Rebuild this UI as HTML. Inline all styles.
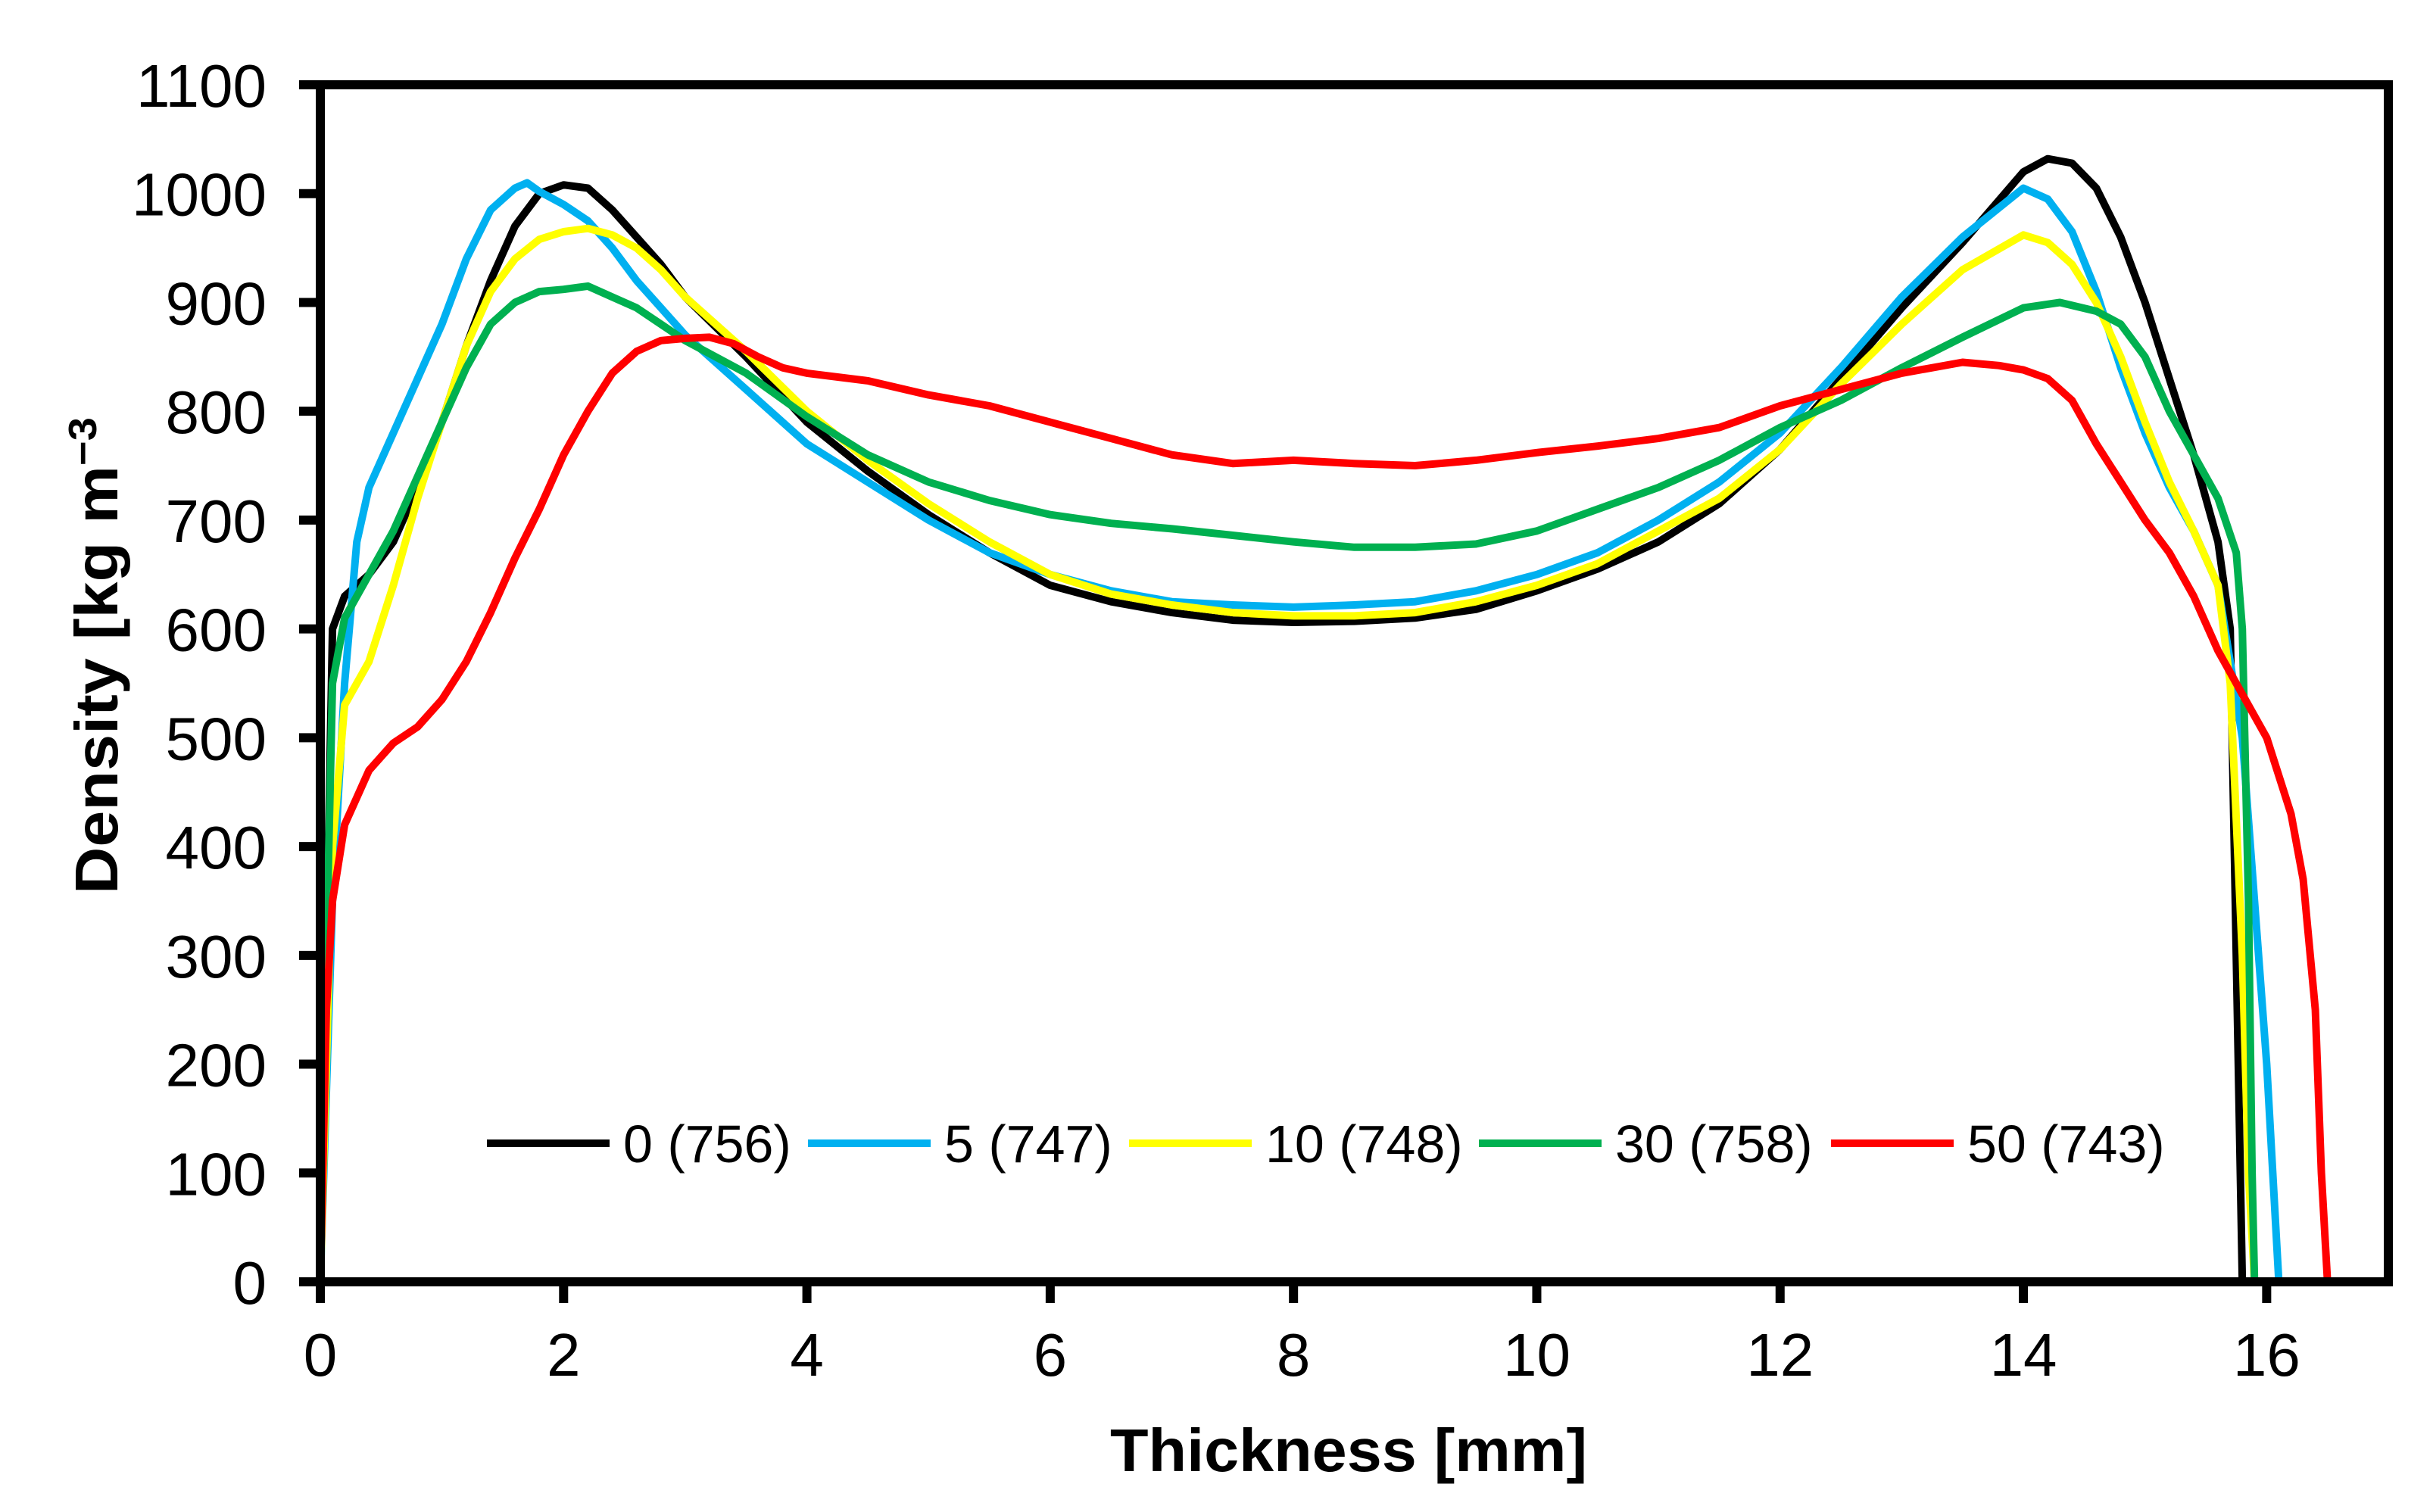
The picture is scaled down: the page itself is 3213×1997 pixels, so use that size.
<!DOCTYPE html>
<html><head><meta charset="utf-8"><style>
html,body{margin:0;padding:0;background:#fff;}
svg{display:block;font-family:"Liberation Sans",Arial,sans-serif;}
</style></head><body>
<svg id="chart" width="3213" height="1997" viewBox="0 0 3213 1997" xmlns="http://www.w3.org/2000/svg">
<rect width="3213" height="1997" fill="#fff"/>
<g id="series"></g>
<g id="axes"></g>
<g id="legend"></g>
<text x="1781" y="1943" text-anchor="middle" font-size="80" font-weight="bold" textLength="630" lengthAdjust="spacingAndGlyphs">Thickness [mm]</text>
<text transform="translate(155,866) rotate(-90)" text-anchor="middle" font-size="80" font-weight="bold" textLength="630" lengthAdjust="spacingAndGlyphs">Density [kg m<tspan dy="-28" font-size="52">−3</tspan></text>
</svg>
<script>
const xTicks = [0,2,4,6,8,10,12,14,16];
const yTicks = [0,100,200,300,400,500,600,700,800,900,1000,1100];
const seriesNames = ["0 (756)","5 (747)","10 (748)","30 (758)","50 (743)"];
const seriesColors = ["#000000","#00b0f0","#ffff00","#00b050","#ff0000"];
const x0 = [0,0.05,0.1,0.2,0.4,0.6,0.8,1.0,1.2,1.4,1.6,1.8,2.0,2.2,2.4,2.6,2.8,3.0,3.5,4,4.5,5,5.5,6,6.5,7,7.5,8,8.5,9,9.5,10,10.5,11,11.5,12,12.5,13,13.5,14,14.2,14.4,14.6,14.8,15,15.2,15.4,15.6,15.7,15.75,15.8];
const y0 = [0,300,600,630,650,680,730,790,860,920,970,1000,1008,1005,985,960,935,905,850,790,745,705,670,640,625,615,608,606,607,610,618,635,655,680,715,765,830,895,955,1020,1032,1028,1005,960,900,830,760,680,600,300,0];
const x5 = [0,0.1,0.2,0.3,0.4,0.6,0.8,1.0,1.2,1.4,1.6,1.7,1.8,2.0,2.2,2.4,2.6,2.8,3,3.5,4,4.5,5,5.5,6,6.5,7,7.5,8,8.5,9,9.5,10,10.5,11,11.5,12,12.5,13,13.5,14,14.2,14.4,14.6,14.8,15,15.2,15.4,15.6,15.8,15.9,16.0,16.05,16.1];
const y5 = [0,350,550,680,730,780,830,880,940,985,1005,1010,1002,990,975,950,920,895,870,820,770,735,700,670,650,635,625,622,620,622,625,635,650,670,700,735,780,840,905,960,1005,995,965,910,840,780,730,690,640,500,350,200,100,0];
const x10 = [0,0.1,0.2,0.4,0.6,0.8,1,1.2,1.4,1.6,1.8,2.0,2.2,2.4,2.6,2.8,3,3.5,4,4.5,5,5.5,6,6.5,7,7.5,8,8.5,9,9.5,10,10.5,11,11.5,12,12.5,13,13.5,14,14.2,14.4,14.6,14.8,15,15.2,15.4,15.6,15.7,15.8,15.85,15.9];
const y10 = [0,400,530,570,640,720,790,860,910,940,958,965,968,962,950,930,905,855,800,755,715,680,650,632,622,615,612,612,615,625,640,660,690,720,765,825,880,930,962,955,935,900,850,790,735,690,640,550,300,100,0];
const x30 = [0,0.05,0.1,0.2,0.4,0.6,0.8,1,1.2,1.4,1.6,1.8,2.0,2.2,2.4,2.6,2.8,3,3.5,4,4.5,5,5.5,6,6.5,7,7.5,8,8.5,9,9.5,10,10.5,11,11.5,12,12.5,13,13.5,14,14.3,14.6,14.8,15,15.2,15.4,15.6,15.75,15.8,15.85,15.88,15.9];
const y30 = [0,300,550,610,650,690,740,790,840,880,900,910,912,915,905,895,880,865,835,795,760,735,718,705,697,692,686,680,675,675,678,690,710,730,755,785,810,840,868,895,900,892,880,850,800,760,720,670,600,350,100,0];
const x50 = [0,0.05,0.1,0.2,0.4,0.6,0.8,1,1.2,1.4,1.6,1.8,2,2.2,2.4,2.6,2.8,3,3.2,3.4,3.6,3.8,4,4.5,5,5.5,6,6.5,7,7.5,8,8.5,9,9.5,10,10.5,11,11.5,12,12.5,13,13.5,13.8,14,14.2,14.4,14.6,14.8,15,15.2,15.4,15.6,15.8,16,16.2,16.3,16.4,16.45,16.5];
const y50 = [0,250,350,420,470,495,510,535,570,615,665,710,760,800,835,855,865,867,868,862,850,840,835,828,815,805,790,775,760,752,755,752,750,755,762,768,775,785,805,820,835,845,842,838,830,810,770,735,700,670,630,580,540,500,430,370,250,100,0];
const seriesX = [x0,x5,x10,x30,x50];
const seriesY = [y0,y5,y10,y30,y50];
const seriesKeys = ["0","5","10","30","50"];

const L=423, R=3154, T=112, B=1693, XMAX=17, YMAX=1100;
const sx = v => L + v/XMAX*(R-L);
const sy = v => B - v/YMAX*(B-T);
const NS="http://www.w3.org/2000/svg";
function mk(tag, attrs, parent){const e=document.createElementNS(NS,tag);for(const k in attrs)e.setAttribute(k,attrs[k]);parent.appendChild(e);return e;}
const gS=document.getElementById('series'), gA=document.getElementById('axes'), gL=document.getElementById('legend');

seriesX.forEach((xs,i)=>{
  const d = xs.map((x,j)=>(j?'L':'M')+sx(x).toFixed(1)+','+sy(seriesY[i][j]).toFixed(1)).join(' ');
  const p = mk('path',{d:d,fill:'none',stroke:seriesColors[i],'stroke-width':10,'stroke-linejoin':'round'},gS);
  
  
});

const frame = mk('rect',{x:L,y:T,width:R-L,height:B-T,fill:'none',stroke:'#000','stroke-width':12},gA);



yTicks.forEach(v=>{
  const t = mk('line',{x1:L-28,x2:L,y1:sy(v),y2:sy(v),stroke:'#000','stroke-width':12},gA);
  
  
  const tx = mk('text',{x:352,y:sy(v)+29,'text-anchor':'end','font-size':80},gA);
  tx.textContent = v;
  
  
});
xTicks.forEach(v=>{
  const t = mk('line',{x1:sx(v),x2:sx(v),y1:B,y2:B+28,stroke:'#000','stroke-width':12},gA);
  
  
  const tx = mk('text',{x:sx(v),y:1817,'text-anchor':'middle','font-size':80},gA);
  tx.textContent = v;
  
  
});

const legX = [643,1067,1491,1953,2418];
seriesNames.forEach((n,i)=>{
  const g = mk('g',{},gL);
  
  
  mk('line',{x1:legX[i],x2:legX[i]+162,y1:1510,y2:1510,stroke:seriesColors[i],'stroke-width':10},g);
  const tx = mk('text',{x:legX[i]+180,y:1535,'font-size':70},g);
  tx.textContent = n;
});
</script>
</body></html>
